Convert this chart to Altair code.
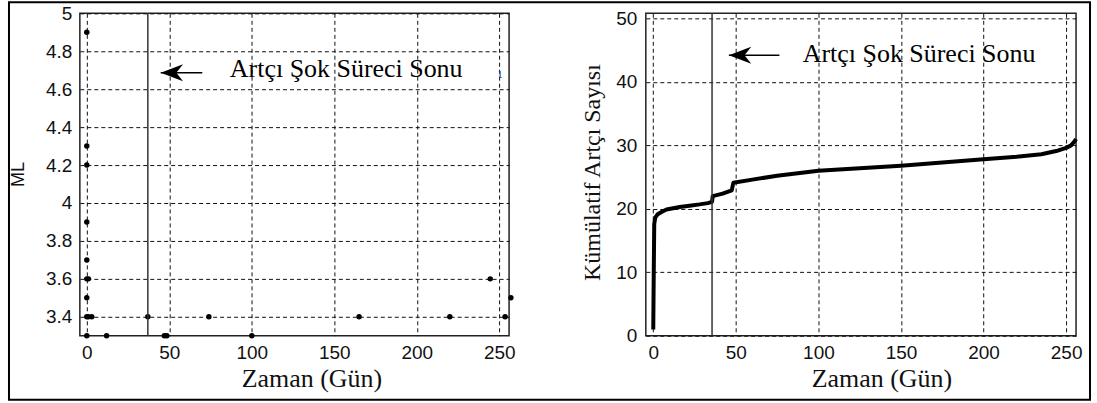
import altair as alt
import pandas as pd

# ---- data ----
# left panel: aftershock magnitudes (ML) vs time (days)
ev_day = [0, 0, 0, 0, 0, 0, 1, 0, 0, 1, 3, 0, 12, 37, 47, 48.5, 74, 100, 165, 220, 244.5, 253.5, 257]
ev_ml = [4.9, 4.3, 4.2, 3.9, 3.7, 3.6, 3.6, 3.5, 3.4, 3.4, 3.4, 3.3, 3.3, 3.4, 3.3, 3.3, 3.4, 3.3, 3.4, 3.4, 3.6, 3.4, 3.5]

# right panel: cumulative aftershock count vs time (days)
cum_day = [0, 0.3, 0.6, 1.2, 2.5, 5, 8, 12, 16, 22, 28, 33, 35.6, 36, 42, 47.5, 48.5, 60, 75, 90, 100,
           125, 150, 175, 200, 220, 235, 244, 250, 253, 255, 256]
cum_n = [1.0, 10, 17.6, 18.6, 19.1, 19.5, 19.9, 20.1, 20.3, 20.5, 20.7, 20.9, 21.1, 22.0, 22.4, 22.9, 24.1,
         24.6, 25.2, 25.7, 26.0, 26.4, 26.8, 27.3, 27.8, 28.2, 28.6, 29.1, 29.6, 30.0, 30.6, 31.0]

x_ticks = [0, 50, 100, 150, 200, 250]
ml_ticks = [3.4, 3.6, 3.8, 4.0, 4.2, 4.4, 4.6, 4.8, 5.0]
n_ticks = [0, 10, 20, 30, 40, 50]

end_day_left = [37]
end_day_right = [35.6]

note_text = "Artçı Şok Süreci Sonu"
# annotation anchors (data units)
left_note = {"x": 86.7, "y": 4.664}
left_arrow = {"tip": 44.8, "tail": 70.0, "y": 4.687}
right_note = {"x": 90.5, "y": 43.1}
right_arrow = {"tip": 45.8, "tail": 76.4, "y": 44.2}
glyph = {"x": 250.5, "y": 4.659, "t": "ι"}

# ---- styling ----
SANS = "Liberation Sans"
SERIF = "Liberation Serif"
ARROW_PATH = "M0,0 L1,-0.38 L0.7,0 L1,0.38 Z"

xs_l = alt.Scale(domain=[-4.2, 255.9], nice=False, zero=False)
ys_l = alt.Scale(domain=[3.3, 5.0], nice=False, zero=False)
xs_r = alt.Scale(domain=[-4.5, 256.0], nice=False, zero=False)
ys_r = alt.Scale(domain=[0, 50.8], nice=False, zero=False)

GRID = dict(grid=True, gridDash=[4, 3], gridColor="#111", gridWidth=1, gridOpacity=1,
            domain=False, ticks=False, labelFont=SANS, labelFontSize=19, labelColor="#111",
            labelFlush=False, titleFontWeight="normal", titleColor="#111")

def x_axis(title_x):
    return alt.Axis(values=x_ticks, labelPadding=8,
                    title="Zaman (Gün)", titleFont=SERIF, titleFontSize=26,
                    titleX=title_x, titleY=43, titleAlign="center",
                    titleBaseline="middle", titleAngle=0, **GRID)

xa_l = x_axis(232)
xa_r = x_axis(236)
ya_l = alt.Axis(values=ml_ticks, format=".1~f", labelPadding=8,
                title="ML", titleFont=SANS, titleFontSize=18,
                titleX=-61, titleY=161, titleAngle=-90, titleAlign="center", titleBaseline="middle", **GRID)
ya_r = alt.Axis(values=n_ticks, labelPadding=9,
                title="Kümülatif Artçı Sayısı", titleFont=SERIF, titleFontSize=24,
                titleX=-53, titleY=159, titleAngle=-90, titleAlign="center", titleBaseline="middle", **GRID)

ev = pd.DataFrame({"day": ev_day, "ml": ev_ml})
cum = pd.DataFrame({"day": cum_day, "n": cum_n, "i": list(range(len(cum_day)))})
one = pd.DataFrame({"a": [0]})

def X(field, s, a):
    return alt.X(field, scale=s, axis=a)

def Y(field, s, a):
    return alt.Y(field, scale=s, axis=a)

# ---- left panel ----
pts = alt.Chart(ev).mark_circle(size=30, color="black", opacity=1).encode(
    x=X("day:Q", xs_l, xa_l), y=Y("ml:Q", ys_l, ya_l))
vline_l = alt.Chart(pd.DataFrame({"d": end_day_left})).mark_rule(color="#333", strokeWidth=1.5).encode(
    x=X("d:Q", xs_l, xa_l))
arr_l_df = pd.DataFrame([left_arrow])
arr_l = alt.Chart(arr_l_df).mark_rule(color="black", strokeWidth=1.5).encode(
    x=X("tip:Q", xs_l, xa_l), x2="tail:Q", y=Y("y:Q", ys_l, ya_l))
head_l = alt.Chart(arr_l_df).mark_point(shape=ARROW_PATH, size=2000, filled=True, fill="black",
                                        opacity=1, strokeWidth=0).encode(
    x=X("tip:Q", xs_l, xa_l), y=Y("y:Q", ys_l, ya_l))
note_l = alt.Chart(pd.DataFrame([left_note])).mark_text(
    text=note_text, font=SERIF, fontSize=26, align="left", baseline="alphabetic", color="#000").encode(
    x=X("x:Q", xs_l, xa_l), y=Y("y:Q", ys_l, ya_l))
glyph_l = alt.Chart(pd.DataFrame([glyph])).mark_text(
    font=SERIF, fontSize=14, align="center", baseline="alphabetic", color="#2a4d9b").encode(
    x=X("x:Q", xs_l, xa_l), y=Y("y:Q", ys_l, ya_l), text="t:N")
frame = alt.Chart(one).mark_rect(fill="transparent", stroke="black", strokeWidth=2).encode(
    x=alt.value(-71), x2=alt.value(1012), y=alt.value(-11), y2=alt.value(387))

left = alt.layer(pts, vline_l, arr_l, head_l, note_l, glyph_l, frame).properties(width=430, height=323)

# ---- right panel ----
line = alt.Chart(cum).mark_line(color="black", strokeWidth=4, strokeJoin="round").encode(
    x=X("day:Q", xs_r, xa_r), y=Y("n:Q", ys_r, ya_r), order="i:Q")
vline_r = alt.Chart(pd.DataFrame({"d": end_day_right})).mark_rule(color="#333", strokeWidth=1.5).encode(
    x=X("d:Q", xs_r, xa_r))
arr_r_df = pd.DataFrame([right_arrow])
arr_r = alt.Chart(arr_r_df).mark_rule(color="black", strokeWidth=1.5).encode(
    x=X("tip:Q", xs_r, xa_r), x2="tail:Q", y=Y("y:Q", ys_r, ya_r))
head_r = alt.Chart(arr_r_df).mark_point(shape=ARROW_PATH, size=2000, filled=True, fill="black",
                                        opacity=1, strokeWidth=0).encode(
    x=X("tip:Q", xs_r, xa_r), y=Y("y:Q", ys_r, ya_r))
note_r = alt.Chart(pd.DataFrame([right_note])).mark_text(
    text=note_text, font=SERIF, fontSize=26, align="left", baseline="alphabetic", color="#000").encode(
    x=X("x:Q", xs_r, xa_r), y=Y("y:Q", ys_r, ya_r))

right = alt.layer(line, vline_r, arr_r, head_r, note_r).properties(width=431, height=323)

chart = alt.hconcat(left, right, spacing=137, bounds="flush").properties(
    padding={"left": 7, "top": 0, "right": 5, "bottom": 3},
    background="white",
).configure_view(stroke="#222", strokeWidth=1.5)

chart.save("out.html", embed_options={"renderer": "svg", "actions": False})
